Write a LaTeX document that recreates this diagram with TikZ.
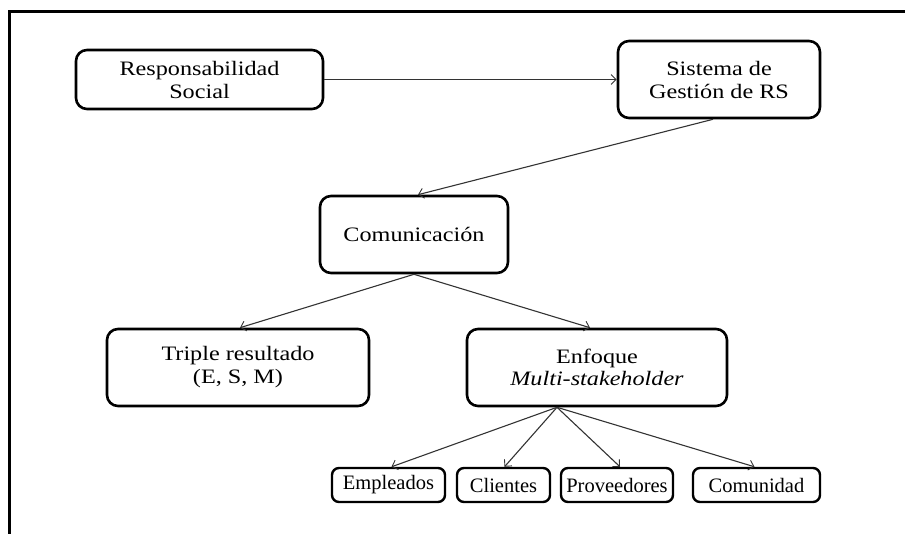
\documentclass[tikz,border=0pt]{standalone}
\usepackage{fontspec}
\setmainfont{Liberation Serif}
\newfontfamily\widefont[FakeStretch=1.18]{Liberation Serif}
\usetikzlibrary{arrows.meta}
\begin{document}
\begin{tikzpicture}[x=1pt,y=-1pt,
  box/.style={draw=black, line width=2.6pt, rounded corners=11pt, align=center, inner sep=0pt,
    font=\widefont\fontsize{20.5}{23}\selectfont, text=black},
  sbox/.style={draw=black, line width=2.4pt, rounded corners=7pt, align=center, inner sep=0pt,
    font=\fontsize{20.5}{21}\selectfont, text=black},
  conn/.style={draw=black!80, line width=1.1pt, -{Straight Barb[length=5pt,width=10pt,line width=0.9pt]}},
  frame/.style={line width=3pt, black}]
\useasboundingbox (0,0) rectangle (905,534);
\coordinate (ftr) at (905,12);
\coordinate (ftl) at (9,12);
\coordinate (fbl) at (9,534);
\draw[frame] (ftr) -- (ftl) -- (fbl);

\node[box, minimum width=247pt, minimum height=59pt] (rs) at (199.5,79.5) {Responsabilidad\\Social};
\node[box, minimum width=202pt, minimum height=77pt] (sg) at (719,79.5) {Sistema de\\Gestión de RS};
\node[box, minimum width=188pt, minimum height=77pt] (com) at (414,234.5) {Comunicación};
\node[box, minimum width=262pt, minimum height=77pt] (tr) at (238,367.5) {Triple resultado\\(E, S, M)};
\node[box, minimum width=260pt, minimum height=77pt] (enf) at (597,367.5) {\raisebox{-4pt}{\shortstack{Enfoque\\\textit{Multi-stakeholder}}}};

\node[sbox, minimum width=113pt, minimum height=34pt] (emp) at (388.5,485) {Empleados};
\node[sbox, minimum width=93pt, minimum height=34pt] (cli) at (503.5,485) {Clientes};
\node[sbox, minimum width=112pt, minimum height=34pt] (pro) at (617,485) {Proveedores};
\node[sbox, minimum width=127pt, minimum height=34pt] (cmu) at (756.5,485) {Comunidad};

\draw[conn] (rs.east) -- (sg.west);
\draw[conn] ([xshift=-6pt]sg.south) -- ([xshift=4pt]com.north);
\draw[conn] (com.south) -- ([xshift=2pt]tr.north);
\draw[conn] (com.south) -- ([xshift=-7pt]enf.north);
\draw[conn] ([xshift=-40pt]enf.south) -- ([xshift=3pt]emp.north);
\draw[conn] ([xshift=-40pt]enf.south) -- ([xshift=1pt]cli.north);
\draw[conn] ([xshift=-40pt]enf.south) -- ([xshift=3pt]pro.north);
\draw[conn] ([xshift=-40pt]enf.south) -- ([xshift=-2pt]cmu.north);
\end{tikzpicture}
\end{document}
